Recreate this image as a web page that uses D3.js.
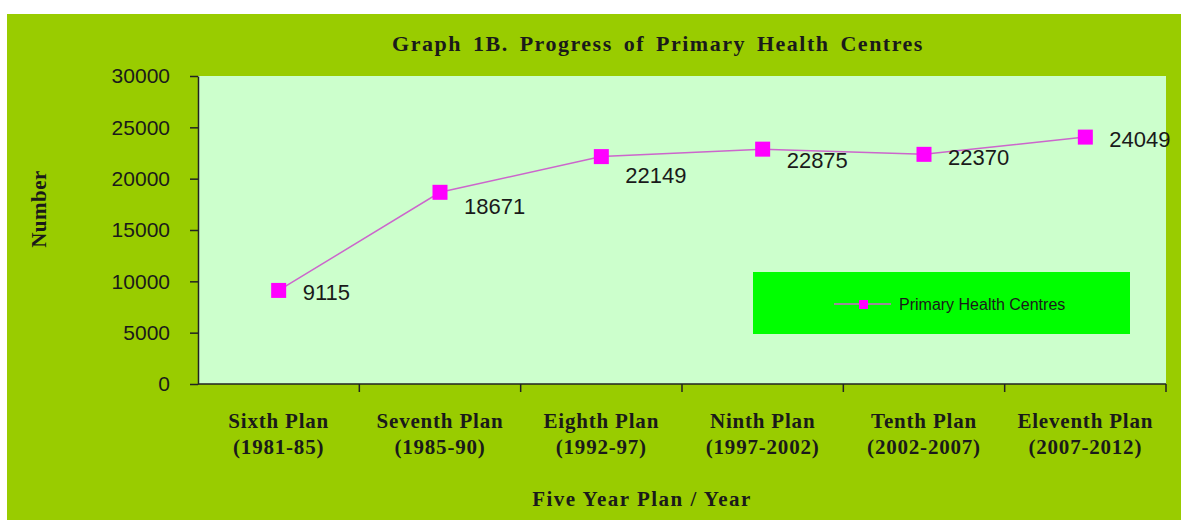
<!DOCTYPE html>
<html>
<head>
<meta charset="utf-8" />
<title>Graph 1B. Progress of Primary Health Centres</title>
<style>
body { margin: 0; background: #fff; }
.serif { font-family: "Liberation Serif", "Times New Roman", serif; font-weight: bold; fill: #1a1a1a; }
.sans { font-family: "Liberation Sans", Arial, sans-serif; fill: #1a1a1a; }
</style>
</head>
<body>
<script src="https://d3js.org/d3.v7.min.js"></script>
<script>
// data
var plans = ["Sixth Plan", "Seventh Plan", "Eighth Plan", "Ninth Plan", "Tenth Plan", "Eleventh Plan"];
var years = ["(1981-85)", "(1985-90)", "(1992-97)", "(1997-2002)", "(2002-2007)", "(2007-2012)"];
var phc = [9115, 18671, 22149, 22875, 22370, 24049];
var yTicks = [0, 5000, 10000, 15000, 20000, 25000, 30000];
var seriesName = "Primary Health Centres";

// small vertical nudges for data labels (like excel placed them)
var labelDy = [2, 14, 18, 11, 3, 2];

var width = 1181, height = 520;
var plot = {left: 198, right: 1166, top: 76, bottom: 384};

var svg = d3.select("body").append("svg")
    .attr("width", width)
    .attr("height", height);

// chart background
svg.append("rect")
    .attr("x", 7).attr("y", 14)
    .attr("width", width - 7).attr("height", height - 14)
    .attr("fill", "#99cc00");

svg.append("rect")
    .attr("x", plot.left).attr("y", plot.top)
    .attr("width", plot.right - plot.left).attr("height", plot.bottom - plot.top)
    .attr("fill", "#ccffcc");

var x = d3.scaleBand()
    .domain(plans)
    .range([plot.left, plot.right]);

var y = d3.scaleLinear()
    .domain([0, 30000])
    .range([plot.bottom, plot.top]);

// y axis
var yAxis = svg.append("g")
    .attr("transform", "translate(" + plot.left + ",0)")
    .call(d3.axisLeft(y).tickValues(yTicks).tickFormat(d3.format("d"))
        .tickSize(8).tickPadding(20).tickSizeOuter(0));
yAxis.select(".domain").attr("stroke", "#222").attr("stroke-width", 1.5);
yAxis.selectAll(".tick line").attr("stroke", "#222").attr("stroke-width", 1.5);
yAxis.selectAll(".tick text")
    .attr("class", "sans")
    .style("font-size", "21px")
    .attr("fill", "#1a1a1a");

// x axis: ticks between categories
var xAxisG = svg.append("g");
xAxisG.append("line")
    .attr("x1", plot.left).attr("x2", plot.right)
    .attr("y1", plot.bottom).attr("y2", plot.bottom)
    .attr("stroke", "#222").attr("stroke-width", 1.5);
xAxisG.selectAll(".xt")
    .data(plans)
    .enter().append("line")
    .attr("x1", function(d){ return x(d) + x.bandwidth(); })
    .attr("x2", function(d){ return x(d) + x.bandwidth(); })
    .attr("y1", plot.bottom).attr("y2", plot.bottom + 8)
    .attr("stroke", "#222").attr("stroke-width", 1.5);

var catLabels = xAxisG.selectAll(".cat")
    .data(plans)
    .enter().append("text")
    .attr("class", "serif")
    .attr("text-anchor", "middle")
    .style("font-size", "21px")
    .style("letter-spacing", "0.8px");
catLabels.append("tspan")
    .attr("x", function(d){ return x(d) + x.bandwidth() / 2; })
    .attr("y", 428)
    .text(function(d){ return d; });
catLabels.append("tspan")
    .attr("x", function(d){ return x(d) + x.bandwidth() / 2; })
    .attr("y", 454)
    .text(function(d, i){ return years[i]; });

// titles
svg.append("text")
    .attr("class", "serif")
    .attr("x", 658).attr("y", 51)
    .attr("text-anchor", "middle")
    .style("font-size", "22px")
    .style("letter-spacing", "1.5px")
    .style("word-spacing", "4px")
    .text("Graph 1B. Progress of Primary Health Centres");

svg.append("text")
    .attr("class", "serif")
    .attr("transform", "translate(46,209) rotate(-90)")
    .attr("text-anchor", "middle")
    .style("font-size", "21px")
    .style("letter-spacing", "0.5px")
    .text("Number");

svg.append("text")
    .attr("class", "serif")
    .attr("x", 642).attr("y", 506)
    .attr("text-anchor", "middle")
    .style("font-size", "21px")
    .style("letter-spacing", "1.5px")
    .text("Five Year Plan / Year");

// series
var line = d3.line()
    .x(function(d, i){ return x(plans[i]) + x.bandwidth() / 2; })
    .y(function(d){ return y(d); });

svg.append("path")
    .datum(phc)
    .attr("d", line)
    .attr("fill", "none")
    .attr("stroke", "#cc66cc")
    .attr("stroke-width", 1.5);

svg.selectAll(".pt")
    .data(phc)
    .enter().append("rect")
    .attr("x", function(d, i){ return x(plans[i]) + x.bandwidth() / 2 - 7.5; })
    .attr("y", function(d){ return y(d) - 7.5; })
    .attr("width", 15).attr("height", 15)
    .attr("fill", "#ff00ff");

svg.selectAll(".lbl")
    .data(phc)
    .enter().append("text")
    .attr("class", "sans")
    .attr("x", function(d, i){ return x(plans[i]) + x.bandwidth() / 2 + 24; })
    .attr("y", function(d, i){ return y(d) + 8 + labelDy[i]; })
    .style("font-size", "22px")
    .text(function(d){ return d; });

// legend
var lg = svg.append("g");
lg.append("rect")
    .attr("x", 753).attr("y", 272)
    .attr("width", 377).attr("height", 62)
    .attr("fill", "#00ff00");
lg.append("line")
    .attr("x1", 834).attr("x2", 891)
    .attr("y1", 304).attr("y2", 304)
    .attr("stroke", "#cc66cc").attr("stroke-width", 1.5);
lg.append("rect")
    .attr("x", 859).attr("y", 300)
    .attr("width", 9).attr("height", 9)
    .attr("fill", "#ff00ff");
lg.append("text")
    .attr("class", "sans")
    .attr("x", 899).attr("y", 310)
    .style("font-size", "16px")
    .text(seriesName);
</script>
</body>
</html>
